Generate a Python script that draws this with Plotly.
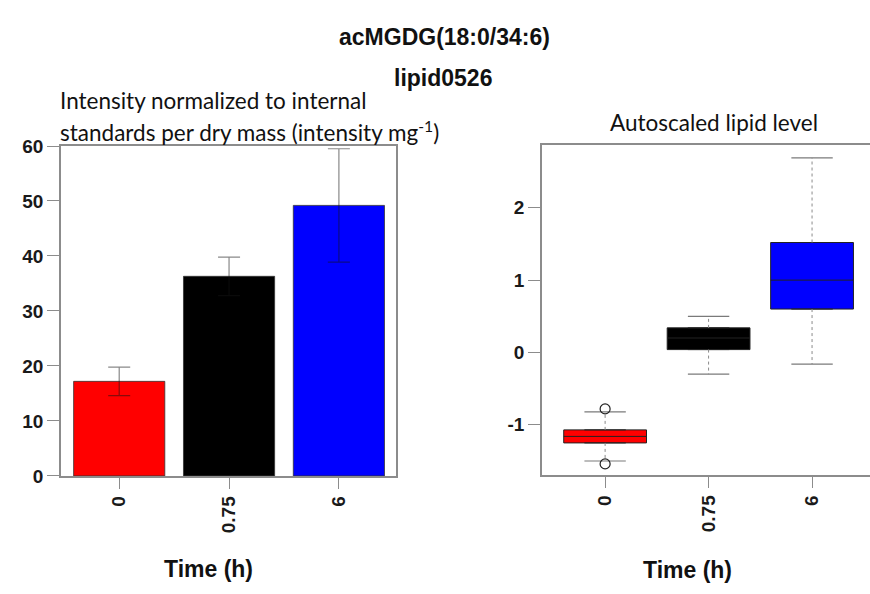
import plotly.graph_objects as go

# ---- data ----
categories = ["0", "0.75", "6"]
bar_colors = ["#ff0000", "#000000", "#0000ff"]
bar_means = [17.2, 36.3, 49.2]
bar_err = [2.6, 3.5, 10.3]

box_q1 = [-1.25, 0.04, 0.60]
box_median = [-1.16, 0.20, 1.00]
box_q3 = [-1.07, 0.34, 1.52]
box_lower = [-1.50, -0.30, -0.16]
box_upper = [-0.82, 0.50, 2.69]
outlier_cat = [0, 0]
outlier_val = [-0.78, -1.54]

left_yticks = [0, 10, 20, 30, 40, 50, 60]
right_yticks = [-1, 0, 1, 2]
right_yticklabels = ["-1", "0", "1", "2"]

W, H = 870, 594
fig = go.Figure()

xpos = list(range(len(categories)))

fig.add_trace(go.Bar(
    x=xpos, y=bar_means, width=0.83,
    marker=dict(color=bar_colors, line=dict(color="#333333", width=0.8)),
    error_y=dict(type="data", array=bar_err, visible=True,
                 color="rgba(20,20,20,0.5)", thickness=1.2, width=11),
    xaxis="x", yaxis="y", showlegend=False, hoverinfo="skip",
))

for i in xpos:
    fig.add_trace(go.Box(
        x=[i], q1=[box_q1[i]], median=[box_median[i]], q3=[box_q3[i]],
        lowerfence=[box_q1[i]], upperfence=[box_q3[i]],
        width=0.8, fillcolor=bar_colors[i], boxpoints=False,
        line=dict(color="#222222", width=1),
        xaxis="x2", yaxis="y2", showlegend=False, hoverinfo="skip",
    ))
    # whiskers (dashed)
    fig.add_trace(go.Scatter(
        x=[i, i, None, i, i], y=[box_q3[i], box_upper[i], None, box_q1[i], box_lower[i]],
        mode="lines", line=dict(color="#8a8a8a", width=1, dash="dot"),
        xaxis="x2", yaxis="y2", showlegend=False, hoverinfo="skip",
    ))
    # staples
    fig.add_trace(go.Scatter(
        x=[i - 0.2, i + 0.2, None, i - 0.2, i + 0.2],
        y=[box_upper[i], box_upper[i], None, box_lower[i], box_lower[i]],
        mode="lines", line=dict(color="#7a7a7a", width=1.2),
        xaxis="x2", yaxis="y2", showlegend=False, hoverinfo="skip",
    ))

fig.add_trace(go.Scatter(
    x=outlier_cat, y=outlier_val, mode="markers",
    marker=dict(symbol="circle-open", size=10, color="#222222", line=dict(width=1.2)),
    xaxis="x2", yaxis="y2", showlegend=False, hoverinfo="skip",
))

tickfont = dict(family="Liberation Sans, Arial", size=19, color="#1a1a1a", weight="bold")
axcol = "#8c8c8c"

fig.update_layout(
    width=W, height=H,
    margin=dict(l=0, r=0, t=0, b=0),
    paper_bgcolor="white", plot_bgcolor="white",
    xaxis=dict(domain=[61 / W, 396 / W], range=[-0.53, 2.52],
               tickvals=xpos, ticktext=categories, tickangle=-90,
               ticks="outside", ticklen=11, tickcolor=axcol, tickwidth=1.2,
               showline=True, linecolor=axcol, linewidth=1.5, mirror=True,
               showgrid=False, zeroline=False, tickfont=tickfont, anchor="y"),
    yaxis=dict(domain=[(H - 483) / H, (H - 141) / H], range=[0, 60],
               tickvals=left_yticks, ticks="outside", ticklen=12, tickcolor=axcol, tickwidth=1.2,
               showline=True, linecolor=axcol, linewidth=1.5, mirror=True,
               showgrid=False, zeroline=False, tickfont=tickfont, anchor="x"),
    xaxis2=dict(domain=[542 / W, 1.0], range=[-0.61, 2.56],
                tickvals=xpos, ticktext=categories, tickangle=-90,
                ticks="outside", ticklen=11, tickcolor=axcol, tickwidth=1.2,
                showline=True, linecolor=axcol, linewidth=1.5, mirror=True,
                showgrid=False, zeroline=False, tickfont=tickfont, anchor="y2"),
    yaxis2=dict(domain=[(H - 482) / H, (H - 140) / H], range=[-1.693, 2.867],
                tickvals=right_yticks, ticktext=right_yticklabels,
                ticks="outside", ticklen=12, tickcolor=axcol, tickwidth=1.2,
                showline=True, linecolor=axcol, linewidth=1.5, mirror=False,
                showgrid=False, zeroline=False, tickfont=tickfont, anchor="x2"),
)

titlefont = dict(family="Liberation Sans, Arial", size=23, color="#111111")
lab = dict(family="Lato, Open Sans", size=22.5, color="#111111")

def ann(text, x, y, font, xanchor="center"):
    fig.add_annotation(text=text, x=x / W, y=1 - y / H, xref="paper", yref="paper",
                       xanchor=xanchor, yanchor="middle", showarrow=False, font=font)

ann("<b>acMGDG(18:0/34:6)</b>", 444, 28, titlefont)
ann("<b>lipid0526</b>", 443, 70, titlefont)
ann("Intensity normalized to internal", 58, 94, lab, xanchor="left")
ann("standards per dry mass (intensity mg<sup>-1</sup>)", 58, 125, lab, xanchor="left")
ann("Autoscaled lipid level", 714, 117, lab)
axtitle = dict(family="Liberation Sans, Arial", size=23, color="#111111")
ann("<b>Time (h)</b>", 208, 580, axtitle)
ann("<b>Time (h)</b>", 687, 581, axtitle)

fig.write_html("out.html", config={"displayModeBar": False},
               post_script="document.body.style.margin='0';")
